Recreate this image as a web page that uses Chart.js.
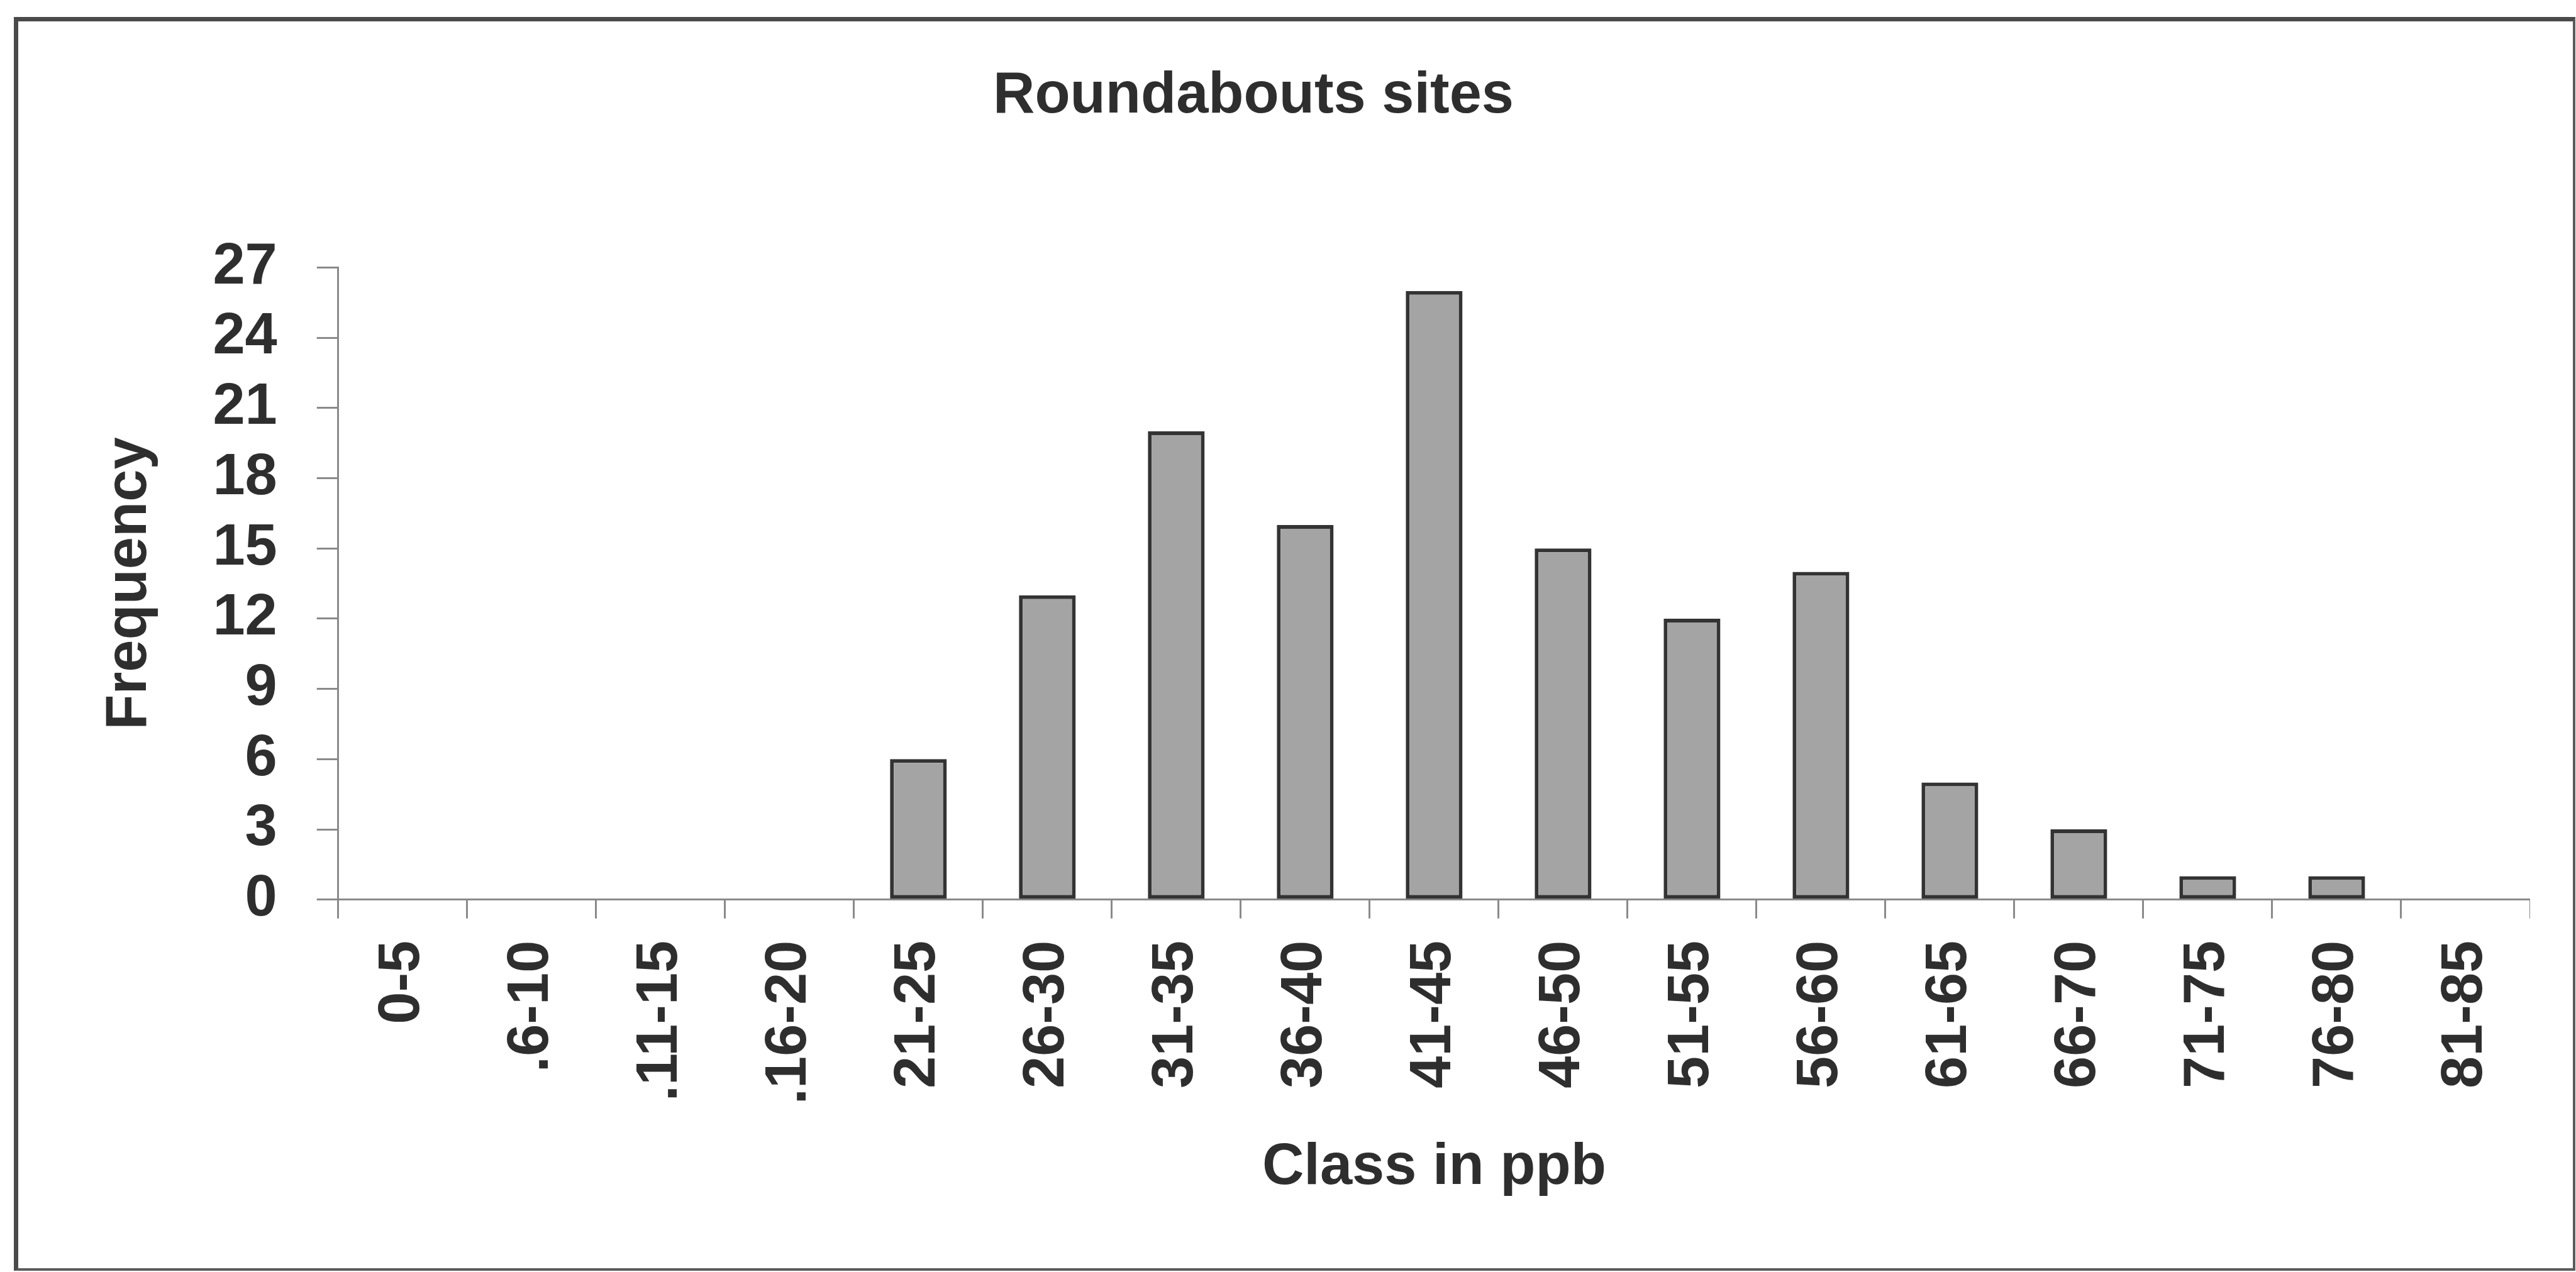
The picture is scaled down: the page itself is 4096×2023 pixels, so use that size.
<!DOCTYPE html>
<html>
<head>
<meta charset="utf-8">
<script src="https://cdn.jsdelivr.net/npm/chart.js@4/dist/chart.umd.min.js"></script>
<style>
  html, body { margin: 0; padding: 0; background: #ffffff; width: 4096px; height: 2023px; overflow: hidden; position: relative; }
  #frame { position: absolute; left: 22px; top: 27px; width: 4062px; height: 1983px;
           border-left: 7px solid #4a4a4a; border-top: 7px solid #4a4a4a;
           border-right: 4px solid #5a5a5a; border-bottom: 4px solid #5a5a5a; box-sizing: content-box; }
  #c { position: absolute; left: -37px; top: 0px; }
</style>
</head>
<body>
<div id="frame"></div>
<canvas id="c" width="4060" height="2023" style="width:4060px;height:2023px"></canvas>
<script>
const chartTitle = 'Roundabouts sites';
const xTitle = 'Class in ppb';
const yTitle = 'Frequency';
const categories = ['0-5', '.6-10', '.11-15', '.16-20', '21-25', '26-30', '31-35', '36-40', '41-45',
                    '46-50', '51-55', '56-60', '61-65', '66-70', '71-75', '76-80', '81-85'];
const frequency = [0, 0, 0, 0, 6, 13, 20, 16, 26, 15, 12, 14, 5, 3, 1, 1, 0];
const yTickValues = [0, 3, 6, 9, 12, 15, 18, 21, 24, 27];

const textColor = '#2e2e2e';
const axisColor = '#8a8a8a';
const fontFamily = '"Liberation Sans", Arial, Helvetica, sans-serif';
const fontSize = 92;

new Chart(document.getElementById('c'), {
  type: 'bar',
  data: {
    labels: categories,
    datasets: [{
      data: frequency,
      backgroundColor: '#a4a4a4',
      borderColor: '#333333',
      borderWidth: 6,
      borderSkipped: false,
      inflateAmount: 0,
      barPercentage: 0.44,
      categoryPercentage: 1.0
    }]
  },
  options: {
    responsive: false,
    animation: false,
    devicePixelRatio: 1,
    layout: { padding: { top: 0, bottom: 100, left: 0, right: 0 } },
    plugins: {
      legend: { display: false },
      tooltip: { enabled: false },
      title: {
        display: true,
        text: chartTitle,
        color: textColor,
        font: { family: fontFamily, size: fontSize, weight: 'bold' },
        padding: { top: 98, bottom: 217 }
      }
    },
    scales: {
      x: {
        offset: true,
        grid: { offset: true, drawOnChartArea: false, drawTicks: true, tickLength: 30, color: axisColor, lineWidth: 3 },
        border: { display: true, color: axisColor, width: 3 },
        ticks: {
          autoSkip: false, minRotation: 90, maxRotation: 90, padding: 35,
          color: textColor, font: { family: fontFamily, size: fontSize, weight: 'bold' }
        },
        title: {
          display: true, text: xTitle, color: textColor,
          font: { family: fontFamily, size: fontSize, weight: 'bold' },
          padding: { top: 11, bottom: 10 }
        },
        afterFit: (scale) => { scale.paddingLeft = 0; scale.paddingRight = 0; }
      },
      y: {
        min: 0, max: 27,
        afterBuildTicks: (scale) => { scale.ticks = yTickValues.map(v => ({ value: v })); },
        grid: { drawOnChartArea: false, drawTicks: true, tickLength: 34, color: axisColor, lineWidth: 3 },
        border: { display: true, color: axisColor, width: 3 },
        ticks: {
          autoSkip: false, padding: 63, color: textColor,
          font: { family: fontFamily, size: fontSize, weight: 'bold' }
        },
        title: {
          display: true, text: yTitle, color: textColor,
          font: { family: fontFamily, size: fontSize, weight: 'bold' },
          padding: { top: 188, bottom: 14 }
        }
      }
    }
  }
});
</script>
</body>
</html>
